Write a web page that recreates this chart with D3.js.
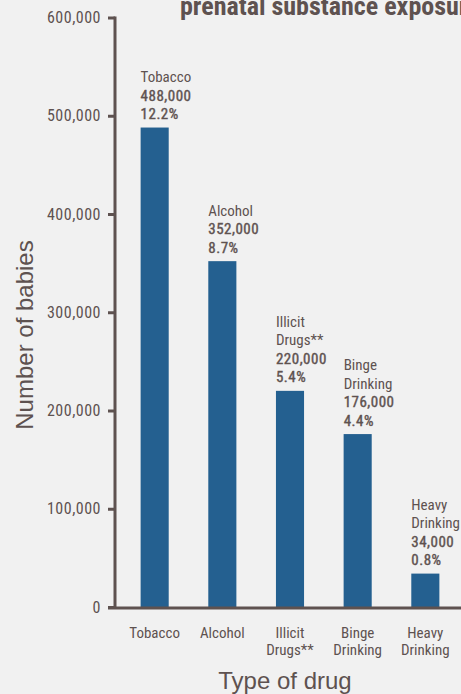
<!DOCTYPE html>
<html>
<head>
<meta charset="utf-8">
<script src="https://cdn.jsdelivr.net/npm/d3@7"></script>
<style>
  html, body { margin: 0; padding: 0; background: #f1f1f1; }
  svg { display: block; }
</style>
</head>
<body>
<svg id="chart" width="461" height="694"></svg>
<script>
// Data
const categories = ["Tobacco", "Alcohol", "Illicit Drugs**", "Binge Drinking", "Heavy Drinking"];
const categoryLines = [["Tobacco"], ["Alcohol"], ["Illicit", "Drugs**"], ["Binge", "Drinking"], ["Heavy", "Drinking"]];
const babies = [488000, 352000, 220000, 176000, 34000];
const percents = ["12.2%", "8.7%", "5.4%", "4.4%", "0.8%"];
const yTicks = [0, 100000, 200000, 300000, 400000, 500000, 600000];

const ink = "#5e5250";
const barColor = "#246090";
const narrow = "'Roboto Condensed', 'Liberation Sans Narrow', 'Arial Narrow', sans-serif";
const wide = "'Liberation Sans', Arial, Helvetica, sans-serif";
const small = 15;

const svg = d3.select("#chart");

const y = d3.scaleLinear().domain([0, 600000]).range([607, 17.5]);
const x = d3.scaleBand().domain(categories).range([121, 459])
  .paddingInner(0.585).paddingOuter(0.29);

// Title (runs past the right edge of the canvas)
svg.append("text")
  .attr("x", 180).attr("y", 15)
  .attr("font-family", narrow).attr("font-weight", "bold")
  .attr("font-size", 26).attr("fill", ink)
  .text("prenatal substance exposure");

// Bars
svg.append("g").selectAll("rect")
  .data(categories)
  .join("rect")
  .attr("x", d => x(d))
  .attr("width", x.bandwidth())
  .attr("y", (d, i) => y(babies[i]))
  .attr("height", (d, i) => y(0) - y(babies[i]))
  .attr("fill", barColor);

// Value labels above bars: name, count, share
const fmt = d3.format(",");
const lineH = 18.5;
categories.forEach((c, i) => {
  const lines = categoryLines[i].map(t => ({ t, strong: false }))
    .concat([{ t: fmt(babies[i]), strong: true }, { t: percents[i], strong: true }]);
  const base = y(babies[i]) - 8.5;
  const g = svg.append("g");
  lines.forEach((ln, k) => {
    const t = g.append("text")
      .attr("x", x(c))
      .attr("y", base - (lines.length - 1 - k) * lineH)
      .attr("font-family", narrow)
      .attr("font-size", small)
      .attr("fill", ink)
      .text(ln.t);
    if (ln.strong) t.attr("stroke", ink).attr("stroke-width", 0.4).attr("letter-spacing", 0.5);
  });
});

// Y axis
const yAxis = svg.append("g")
  .attr("transform", "translate(115,0)")
  .call(d3.axisLeft(y).tickValues(yTicks).tickFormat(d => fmt(d)).tickSize(7).tickPadding(7));
yAxis.select(".domain").attr("stroke", ink).attr("stroke-width", 3)
  .attr("d", `M0,${y(600000) - 1}V${y(0)}`);
yAxis.selectAll(".tick line").attr("stroke", ink).attr("stroke-width", 3);
yAxis.selectAll(".tick text")
  .attr("font-family", narrow).attr("font-size", 16)
  .attr("letter-spacing", 0.5).attr("fill", ink);

// X axis baseline
svg.append("line")
  .attr("x1", 108).attr("x2", 461)
  .attr("y1", y(0) + 1).attr("y2", y(0) + 1)
  .attr("stroke", ink).attr("stroke-width", 3);

// Category labels
categories.forEach((c, i) => {
  const t = svg.append("text")
    .attr("x", x(c) + x.bandwidth() / 2)
    .attr("y", 638)
    .attr("text-anchor", "middle")
    .attr("font-family", narrow).attr("font-size", small).attr("fill", ink);
  categoryLines[i].forEach((ln, k) => {
    t.append("tspan")
      .attr("x", x(c) + x.bandwidth() / 2)
      .attr("dy", k === 0 ? 0 : 17)
      .text(ln);
  });
});

// Axis titles
svg.append("text")
  .attr("x", 285).attr("y", 689)
  .attr("text-anchor", "middle")
  .attr("font-family", wide).attr("font-size", 24).attr("fill", ink)
  .text("Type of drug");

svg.append("text")
  .attr("transform", "translate(33,335) rotate(-90)")
  .attr("text-anchor", "middle")
  .attr("font-family", wide).attr("font-size", 24).attr("fill", ink)
  .text("Number of babies");
</script>
</body>
</html>
